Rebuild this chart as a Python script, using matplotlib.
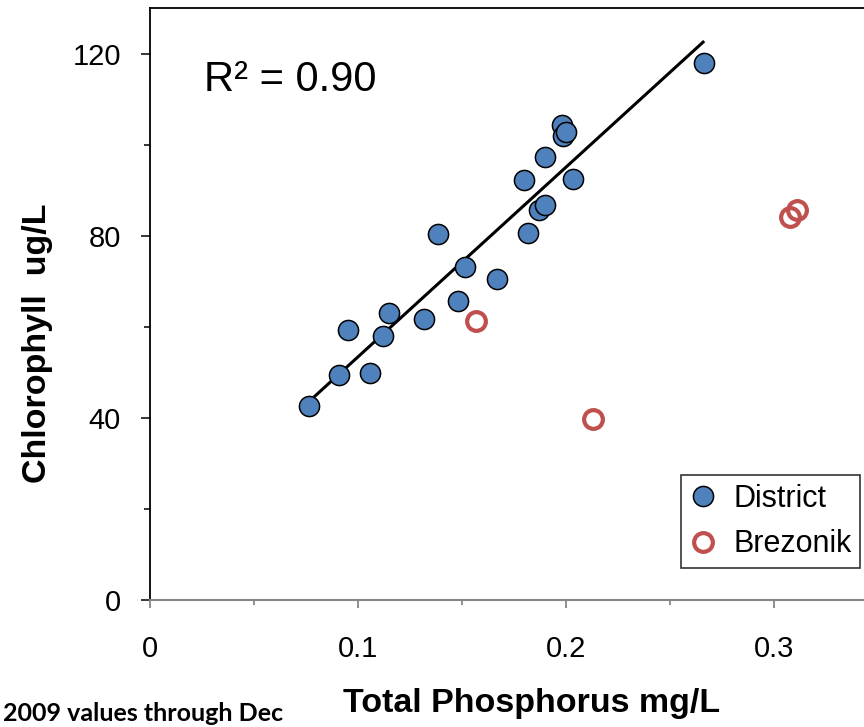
import numpy as np
import matplotlib
matplotlib.use("Agg")
import matplotlib.pyplot as plt

plt.rcParams['font.family'] = ['Liberation Sans', 'DejaVu Sans']

# district measurements (total phosphorus mg/L, chlorophyll ug/L)
district_tp = [0.0764, 0.0908, 0.1056, 0.0952, 0.1119, 0.1149, 0.1318, 0.1481,
               0.1514, 0.1670, 0.1384, 0.1815, 0.1871, 0.1898, 0.1799, 0.2032,
               0.1900, 0.1979, 0.1986, 0.1999, 0.2663]
district_chl = [42.6, 49.4, 49.8, 59.4, 58.1, 63.0, 61.8, 65.8,
                73.2, 70.6, 80.4, 80.7, 85.8, 86.7, 92.4, 92.5,
                97.3, 104.4, 102.0, 102.9, 118.0]

# Brezonik values
brez_tp = [0.1566, 0.2131, 0.3077, 0.3110]
brez_chl = [61.3, 39.8, 84.2, 85.7]

# trendline end points as drawn
trend_tp = [0.0764, 0.2659]
trend_chl = [43.6, 122.6]
r2_text = "R² = 0.90"

fig = plt.figure(figsize=(8.64, 7.27), dpi=100)
ax = fig.add_axes([150/864, 127/727, 1 - 150/864, 592/727])

ax.plot(trend_tp, trend_chl, color='black', lw=2.2, zorder=2)
ax.plot(district_tp, district_chl, 'o', ms=14.5, mfc='#4F81BD', mec='black',
        mew=1.1, label='District', zorder=3)
ax.plot(brez_tp, brez_chl, 'o', ms=13.5, mfc='none', mec='#C0504D',
        mew=3.0, label='Brezonik', zorder=3)

ax.set_xlim(0, (864 - 150) / 2080)
ax.set_ylim(0, 130.1)

ax.set_xticks([0, 0.1, 0.2, 0.3])
ax.set_xticklabels(['0', '0.1', '0.2', '0.3'])
ax.set_xticks([0.05, 0.15, 0.25], minor=True)
ax.set_yticks([0, 40, 80, 120])
ax.set_yticks([20, 60, 100], minor=True)

ax.spines['right'].set_visible(False)
ax.spines['bottom'].set_color('#868686')
ax.spines['bottom'].set_linewidth(1.5)
ax.spines['left'].set_linewidth(1.3)
ax.spines['top'].set_linewidth(1.3)

ax.tick_params(axis='x', which='major', length=6, width=1.3, color='#868686',
               labelsize=21, pad=19)
ax.tick_params(axis='x', which='minor', length=3.6, width=1.3, color='#868686')
ax.tick_params(axis='y', which='major', length=6.5, width=1.1, labelsize=21, pad=14.5)
ax.tick_params(axis='y', which='minor', length=4.5, width=1.1)

# axis titles placed where the original has them
fig.text(532/864, 1 - 712/727, 'Total Phosphorus mg/L', fontsize=24.5,
         fontweight='bold', ha='center', va='baseline')
fig.text(38/864, 1 - 343/727, 'Chlorophyll  ug/L', fontsize=24.5,
         fontweight='bold', ha='center', va='center', rotation=90)

ax.text(0.075, 0.86, r2_text, transform=ax.transAxes, fontsize=30)

leg = ax.legend(loc='lower right', bbox_to_anchor=(0.9944, 0.054), fontsize=22,
                frameon=True, fancybox=False, edgecolor='black', handletextpad=0.56,
                borderpad=0.28, labelspacing=0.52, handlelength=0.88, borderaxespad=0)
leg.get_frame().set_linewidth(1.2)

fig.text(0.004, 1 - 721/727, '2009 values through Dec', fontsize=18,
         fontweight='bold', va='baseline', family=['Lato', 'DejaVu Sans'])

fig.savefig('out.png', dpi=100)
